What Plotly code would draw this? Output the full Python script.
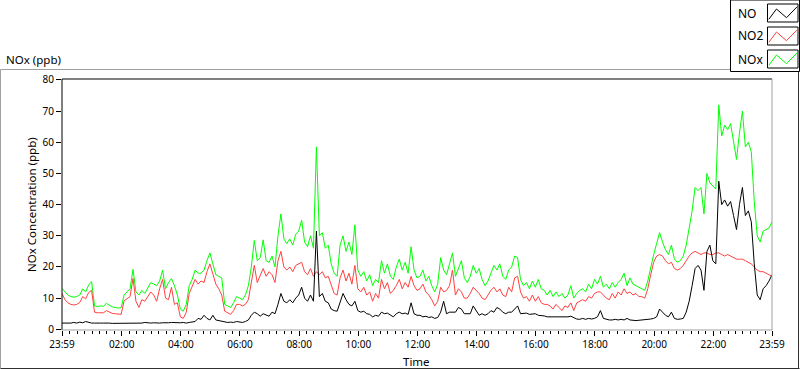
import plotly.graph_objects as go

# ---------------- data ----------------
# sample times, minutes after the 23:59 start (6-minute samples)
minutes = list(range(0, 1441, 6))

no_ppb = [
    2.0, 2.0, 1.8, 2.0, 2.2, 2.0, 2.3, 2.1, 2.5, 2.2, 2.0, 2.0, 1.9, 2.0, 2.0, 2.1, 2.0, 1.9, 1.9, 1.9,
    2.0, 1.9, 2.0, 2.1, 2.1, 2.0, 2.1, 2.0, 2.2, 2.0, 2.0, 2.1, 2.0, 2.0, 2.1, 2.0, 2.1, 2.2, 2.1, 2.0,
    2.1, 2.2, 2.0, 2.2, 2.3, 2.5, 3.5, 3.2, 4.5, 3.5, 3.0, 4.5, 3.0, 2.8, 2.5, 2.3, 2.2, 2.3, 2.2, 2.5,
    2.3, 2.2, 2.5, 3.0, 4.5, 5.5, 5.0, 4.2, 5.0, 4.5, 4.2, 5.5, 5.0, 8.0, 11.5, 9.0, 8.5, 9.5, 8.5, 10.0,
    11.0, 13.5, 10.0, 9.0, 11.0, 9.0, 31.5, 10.5, 11.5, 9.0, 8.5, 6.5, 6.0, 5.8, 8.5, 11.5, 9.5, 8.0, 7.5, 9.0,
    6.0, 5.5, 5.8, 5.0, 4.8, 4.0, 4.5, 4.2, 5.5, 5.0, 5.2, 4.5, 4.0, 5.0, 5.5, 5.0, 5.2, 4.8, 8.5, 5.0,
    4.5, 4.5, 4.0, 4.2, 3.8, 4.0, 3.5, 3.8, 5.5, 9.0, 5.0, 5.5, 5.5, 5.5, 7.0, 6.5, 5.0, 5.0, 5.0, 7.5,
    6.0, 4.5, 5.0, 4.5, 5.0, 6.0, 5.5, 7.0, 6.5, 5.5, 5.0, 5.5, 5.5, 6.5, 7.5, 5.0, 5.0, 5.2, 4.8, 5.0,
    5.0, 4.5, 4.5, 4.3, 4.0, 4.0, 4.0, 4.0, 3.8, 3.9, 3.8, 4.0, 4.2, 3.7, 3.3, 3.2, 3.5, 3.2, 3.5, 3.3,
    3.5, 4.0, 6.0, 3.5, 3.2, 3.0, 3.0, 3.2, 3.0, 3.2, 3.0, 3.5, 3.0, 2.8, 2.8, 2.9, 3.0, 2.9, 3.2, 3.3,
    3.5, 4.0, 6.5, 5.5, 4.5, 4.0, 5.5, 3.5, 3.2, 3.3, 3.5, 5.5, 9.0, 14.0, 19.5, 20.5, 19.0, 12.5, 25.0, 27.0,
    22.0, 21.0, 47.5, 40.0, 41.5, 39.5, 41.0, 36.5, 32.0, 40.0, 45.5, 36.5, 38.0, 34.5, 21.0, 11.0, 9.5, 13.0, 14.0, 15.5,
    17.5,
]

no2_ppb = [
    11.5, 9.5, 8.5, 8.0, 7.8, 8.0, 8.6, 10.5, 9.8, 11.8, 12.5, 5.5, 5.3, 5.4, 5.3, 6.0, 5.6, 5.1, 5.0, 4.8,
    4.8, 9.2, 9.8, 10.5, 16.3, 9.0, 7.0, 9.5, 9.0, 10.5, 12.0, 11.0, 9.0, 13.0, 16.0, 10.0, 9.5, 13.5, 8.0, 8.5,
    4.0, 3.5, 5.5, 11.5, 13.5, 16.0, 14.5, 15.5, 15.0, 18.5, 21.0, 17.5, 14.5, 13.0, 11.0, 5.8, 5.3, 4.8, 6.0, 8.0,
    8.0, 7.5, 8.0, 9.5, 15.0, 20.5, 15.0, 17.0, 19.5, 17.0, 18.5, 17.5, 15.0, 22.0, 25.0, 20.0, 19.0, 20.0, 18.5, 20.5,
    21.0, 21.5, 18.5, 17.5, 19.5, 17.0, 18.5, 17.5, 18.5, 16.5, 17.0, 14.0, 11.5, 11.0, 16.5, 19.0, 15.5, 18.0, 14.5, 20.5,
    13.0, 12.0, 13.5, 11.0, 12.0, 9.0, 11.5, 10.0, 16.0, 13.0, 15.0, 11.5, 12.5, 14.0, 16.0, 13.0, 15.0, 13.5, 17.0, 14.0,
    12.5, 13.0, 14.5, 12.0, 11.0, 9.5, 7.5, 9.0, 13.5, 12.0, 12.5, 14.0, 19.0, 11.0, 13.0, 12.0, 10.0, 10.0, 11.5, 13.5,
    12.5, 11.5, 10.0, 9.5, 11.0, 12.5, 13.5, 12.0, 13.0, 11.0, 10.5, 13.5, 12.0, 16.5, 17.0, 12.0, 10.0, 10.5, 9.0, 11.0,
    9.0, 10.5, 8.5, 8.0, 8.0, 7.5, 6.5, 8.0, 7.0, 6.0, 7.5, 7.0, 8.5, 6.0, 8.5, 9.0, 9.5, 9.0, 10.5, 10.0,
    11.5, 12.0, 12.0, 11.0, 10.0, 9.5, 11.5, 10.0, 12.0, 11.0, 13.0, 11.5, 12.0, 11.0, 11.5, 10.5, 10.5, 10.0, 13.0, 17.5,
    21.5, 23.5, 24.0, 23.5, 22.0, 21.0, 21.5, 19.5, 19.0, 19.5, 20.5, 22.0, 23.5, 24.5, 25.0, 24.5, 24.0, 24.5, 24.5, 24.0,
    24.0, 24.5, 24.5, 24.0, 23.5, 24.0, 23.5, 23.0, 22.5, 22.5, 22.5, 22.0, 21.5, 21.0, 20.0, 19.0, 18.5, 18.5, 18.0, 17.5,
    17.0,
]

nox_ppb = [
    13.1, 12.0, 11.0, 10.5, 10.3, 10.5, 11.0, 13.0, 12.0, 14.2, 15.3, 7.5, 7.3, 7.5, 7.4, 8.3, 7.8, 7.2, 7.0, 6.8,
    7.0, 11.0, 12.0, 13.0, 19.2, 12.0, 11.0, 12.5, 11.5, 13.5, 15.0, 14.5, 14.0, 15.5, 19.0, 13.0, 15.0, 16.3, 14.0, 11.0,
    6.5, 5.8, 8.0, 14.0, 16.0, 19.0, 18.0, 18.0, 19.0, 22.0, 24.5, 21.0, 17.5, 17.0, 16.5, 8.0, 7.5, 7.0, 8.5, 10.5,
    10.0, 9.5, 11.0, 14.0, 20.0, 28.5, 22.0, 23.0, 28.7, 22.0, 21.5, 23.5, 20.0, 30.0, 37.0, 29.0, 27.5, 29.0, 27.0, 30.5,
    31.5, 35.0, 28.0, 26.5, 30.0, 26.0, 58.5, 30.0, 31.0, 26.0, 27.0, 21.0, 18.0, 17.0, 27.0, 30.0, 25.0, 28.0, 24.0, 33.5,
    19.0, 17.0, 18.5, 15.5, 17.5, 14.0, 16.0, 15.0, 22.0, 18.0, 21.0, 17.0, 16.0, 20.0, 22.5, 19.0, 21.5, 18.0, 26.5, 19.0,
    16.5, 17.0, 19.0, 15.5, 17.0, 14.0, 12.0, 14.5, 23.0, 19.0, 17.5, 21.0, 24.5, 17.0, 19.5, 22.0, 16.5, 15.0, 17.0, 20.5,
    18.0, 19.5, 16.0, 14.0, 15.5, 18.0, 20.5, 19.0, 21.0, 17.0, 16.0, 19.0, 20.0, 23.5, 23.0, 16.0, 14.0, 15.0, 13.0, 15.5,
    13.5, 16.0, 13.0, 12.5, 11.0, 12.5, 10.5, 12.0, 10.5, 11.5, 10.0, 11.0, 14.0, 10.0, 11.5, 12.5, 13.0, 12.0, 14.5, 13.0,
    16.0, 14.5, 17.0, 13.5, 14.5, 13.0, 15.0, 13.5, 15.0, 16.0, 18.0, 14.0, 16.5, 14.5, 14.0, 13.5, 13.0, 12.5, 15.5, 20.0,
    24.0, 27.5, 31.0, 28.0, 25.5, 24.0, 27.0, 22.5, 21.5, 22.0, 23.5, 27.0, 32.0, 38.0, 45.5, 44.5, 45.5, 37.0, 50.0, 47.0,
    46.0, 45.0, 72.0, 62.0, 65.5, 64.0, 66.0, 59.5, 54.5, 63.0, 70.0, 58.5, 60.0, 57.0, 41.0, 30.0, 28.0, 31.5, 32.0, 32.5,
    34.5,
]

x_tick_vals = [0, 121, 241, 361, 481, 601, 721, 841, 961, 1081, 1201, 1321, 1440]
x_tick_text = ["23:59", "02:00", "04:00", "06:00", "08:00", "10:00", "12:00",
               "14:00", "16:00", "18:00", "20:00", "22:00", "23:59"]
y_tick_vals = [0, 10, 20, 30, 40, 50, 60, 70, 80]

series = [("NOx", nox_ppb, "#00ff00"), ("NO2", no2_ppb, "#ff4040"), ("NO", no_ppb, "#000000")]
legend_order = [("NO", "#000000"), ("NO2", "#ff4040"), ("NOx", "#00ff00")]

# ---------------- layout helpers (pixel -> paper) ----------------
L, T, W, H = 62, 79, 710, 251
FONT = "Noto Sans"


def fx(x):
    return (x - L) / W


def fy(y):
    return (T + H - y) / H


fig = go.Figure()
for name, vals, col in series:
    fig.add_trace(go.Scatter(x=minutes, y=vals, mode="lines", name=name,
                             line=dict(color=col, width=1), showlegend=False,
                             hoverinfo="skip"))

shapes = []


def seg(x0, y0, x1, y1, col, layer="above"):
    shapes.append(dict(type="line", xref="paper", yref="paper",
                       x0=fx(x0), y0=fy(y0), x1=fx(x1), y1=fy(y1),
                       line=dict(color=col, width=1), layer=layer))


# outer frame
seg(0.5, 69.5, 799.5, 69.5, "#a0a0a0")
seg(0.5, 69.5, 0.5, 368.5, "#a0a0a0")
seg(0.5, 368.5, 799.5, 368.5, "#303030")
seg(798.5, 69.5, 798.5, 368.5, "#303030")
# plot-area frame
seg(L, T, L + W, T, "#000000")
seg(L, T, L, T + H, "#000000")
seg(L + W, T, L + W, T + H, "#a0a0a0")
seg(L, T + H, L + W, T + H, "#a0a0a0")

# legend box
shapes.append(dict(type="rect", xref="paper", yref="paper",
                   x0=fx(730.5), y0=fy(0), x1=fx(799.5), y1=fy(71.5),
                   fillcolor="white", line=dict(color="#000000", width=1), layer="above"))

annotations = []
zig = [(1.3, 15.3), (9, 5), (19, 13.7), (29.7, 2.7)]
for k, (name, col) in enumerate(legend_order):
    top = 4 + 23 * k
    shapes.append(dict(type="rect", xref="paper", yref="paper",
                       x0=fx(767.5), y0=fy(top), x1=fx(798), y1=fy(top + 18),
                       fillcolor="white", line=dict(color="#000000", width=1), layer="above"))
    path = " ".join(("M" if i == 0 else "L") + f"{fx(767.5 + a):.5f},{fy(top + b):.5f}"
                    for i, (a, b) in enumerate(zig))
    shapes.append(dict(type="path", xref="paper", yref="paper", path=path,
                       line=dict(color=col, width=1), layer="above"))
    annotations.append(dict(text=name, xref="paper", yref="paper", x=fx(735.5), y=fy(top + 9),
                            xanchor="left", yanchor="middle", showarrow=False,
                            font=dict(family=FONT, size=12, color="black")))

annotations += [
    dict(text="NOx (ppb)", xref="paper", yref="paper", x=fx(3.5), y=fy(59),
         xanchor="left", yanchor="middle", showarrow=False,
         font=dict(family=FONT, size=11.5, color="black")),
    dict(text="NOx Concentration (ppb)", xref="paper", yref="paper", x=fx(31.5), y=0.5,
         xanchor="center", yanchor="middle", textangle=-90, showarrow=False,
         font=dict(family=FONT, size=11.5, color="black")),
    dict(text="Time", xref="paper", yref="paper", x=fx(416), y=fy(361.5),
         xanchor="center", yanchor="middle", showarrow=False,
         font=dict(family=FONT, size=11.5, color="black")),
]

fig.update_layout(
    width=800, height=369,
    margin=dict(l=L, r=800 - L - W, t=T, b=369 - T - H, pad=0),
    paper_bgcolor="white", plot_bgcolor="white",
    shapes=shapes, annotations=annotations, showlegend=False,
    xaxis=dict(range=[0, 1440], tickmode="array", tickvals=x_tick_vals, ticktext=x_tick_text,
               ticks="outside", ticklen=5, tickcolor="black", tickwidth=1,
               showgrid=False, zeroline=False, showline=False,
               tickfont=dict(family=FONT, size=10, color="black"),
               minor=dict(ticks="outside", ticklen=3, tickcolor="black", tickwidth=1,
                          tickmode="linear", tick0=1, dtick=15, showgrid=False)),
    yaxis=dict(range=[-0.22, 80.3], tickmode="array", tickvals=y_tick_vals,
               ticks="outside", ticklen=5, tickcolor="black", tickwidth=1,
               showgrid=False, zeroline=False, showline=False,
               tickfont=dict(family=FONT, size=10, color="black")),
)

fig.write_html("out.html", config={"displayModeBar": False},
               post_script="document.body.style.margin='0';document.body.style.overflow='hidden';")
